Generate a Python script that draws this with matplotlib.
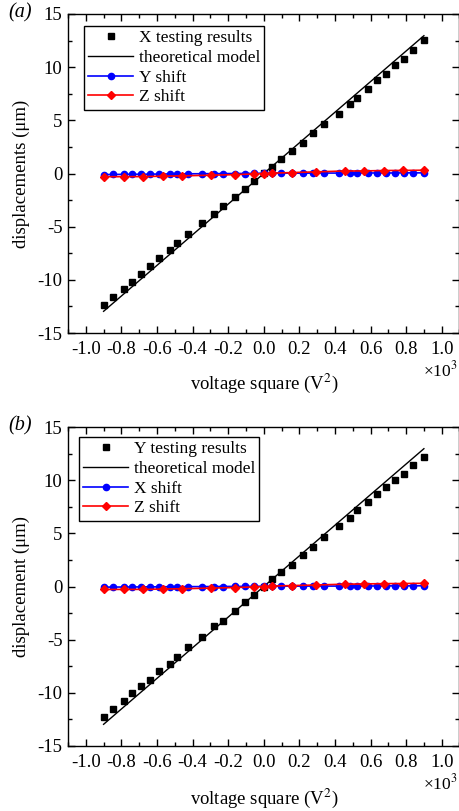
import numpy as np
import matplotlib
matplotlib.use('Agg')
import matplotlib.pyplot as plt

plt.rcParams['font.family'] = ['Liberation Serif', 'DejaVu Serif']
plt.rcParams['mathtext.fontset'] = 'stix'
plt.rcParams['axes.unicode_minus'] = False

# voltage square (x10^3 V^2), same points for every curve
vsq = [-0.900, -0.845, -0.788, -0.740, -0.690, -0.637, -0.588, -0.528, -0.486,
       -0.425, -0.345, -0.279, -0.228, -0.163, -0.107, -0.053, 0.0,
       0.049, 0.099, 0.156, 0.221, 0.274, 0.341, 0.421, 0.483, 0.524,
       0.586, 0.635, 0.689, 0.736, 0.787, 0.839, 0.899]

# panel (a)
x_test_a = [-12.40, -11.65, -10.90, -10.24, -9.49, -8.73, -7.98, -7.22, -6.57,
            -5.72, -4.69, -3.84, -3.06, -2.20, -1.47, -0.66, 0.05,
            0.61, 1.39, 2.14, 2.90, 3.78, 4.62, 5.60, 6.57, 7.07,
            7.92, 8.76, 9.36, 10.17, 10.74, 11.61, 12.52]
y_shift_a = [-0.10, -0.09, -0.08, -0.07, -0.07, -0.06, -0.05, -0.04, -0.04,
             -0.03, -0.02, -0.01, -0.01, 0.0, 0.0, 0.01, 0.02,
             0.03, 0.03, 0.03, 0.03, 0.04, 0.04, 0.04, 0.04, 0.05,
             0.05, 0.05, 0.05, 0.05, 0.06, 0.06, 0.06]

# panel (b)
y_test_b = [-12.30, -11.52, -10.80, -10.00, -9.39, -8.79, -7.98, -7.32, -6.63,
            -5.72, -4.78, -3.74, -3.21, -2.30, -1.43, -0.80, -0.05,
            0.68, 1.34, 2.00, 2.94, 3.72, 4.66, 5.69, 6.44, 7.17,
            7.92, 8.67, 9.33, 10.02, 10.58, 11.43, 12.15]
x_shift_b = [-0.06, -0.05, -0.05, -0.04, -0.04, -0.03, -0.03, -0.02, -0.02,
             -0.01, -0.01, 0.0, 0.0, 0.01, 0.01, 0.02, 0.02,
             0.03, 0.03, 0.03, 0.04, 0.04, 0.04, 0.04, 0.05, 0.05,
             0.05, 0.05, 0.06, 0.06, 0.06, 0.06, 0.07]

# z shift is sampled on fewer points
vsq_z = [-0.900, -0.788, -0.680, -0.566, -0.457, -0.298, -0.163, -0.053, 0.0,
         0.049, 0.159, 0.292, 0.455, 0.562, 0.674, 0.783, 0.899]
z_shift_a = [-0.30, -0.30, -0.29, -0.25, -0.22, -0.16, -0.11, -0.04, 0.0,
             0.03, 0.09, 0.15, 0.24, 0.24, 0.28, 0.29, 0.31]
z_shift_b = [-0.28, -0.27, -0.27, -0.24, -0.21, -0.15, -0.10, -0.04, 0.0,
             0.04, 0.09, 0.14, 0.22, 0.24, 0.27, 0.28, 0.30]

# theoretical model (straight line)
model_x = [-0.9, 0.9]
model_y = [-12.96, 12.96]

W, H = 459, 811
fig = plt.figure(figsize=(W / 100, H / 100), dpi=100)

def px_axes(left, top, right, bottom):
    return fig.add_axes([left / W, 1 - bottom / H, (right - left) / W, (bottom - top) / H])

panels = [
    dict(top=14, bottom=333, test=x_test_a, shift=y_shift_a, z=z_shift_a,
         tlab='X testing results', slab='Y shift', ylab='displacements (μm)',
         tag='(a)', leg=(84, 26), exp_x=423, xl_off=50),
    dict(top=427, bottom=746, test=y_test_b, shift=x_shift_b, z=z_shift_b,
         tlab='Y testing results', slab='X shift', ylab='displacement (μm)',
         tag='(b)', leg=(79, 437), exp_x=423, xl_off=52),
]

fs = 13.5
lfs = 12.5
for p in panels:
    ax = px_axes(68, p['top'], 459.5, p['bottom'])
    hgt = p['bottom'] - p['top']
    wid = 459.5 - 68
    ax.plot(vsq, p['test'], 's', color='black', ms=4, label=p['tlab'])
    ax.plot(model_x, model_y, '-', color='black', lw=1.0, label='theoretical model')
    ax.plot(vsq, p['shift'], '-', color='blue', lw=1.2, marker='o', ms=4.5,
            label=p['slab'])
    ax.plot(vsq_z, p['z'], '-', color='red', lw=1.2, marker='D', ms=4.2,
            label='Z shift')

    ax.set_xlim(-1.1, 1.1)
    ax.set_ylim(-15, 15)
    ax.set_xticks(np.arange(-1.0, 1.01, 0.2))
    ax.set_xticks(np.arange(-1.1, 1.11, 0.1), minor=True)
    ax.set_yticks(np.arange(-15, 16, 5))
    ax.set_yticks(np.arange(-15, 15.1, 2.5), minor=True)
    ax.xaxis.set_major_formatter(matplotlib.ticker.FuncFormatter(
        lambda v, _: ('%.1f' % v).replace('-0.0', '0.0')))
    ax.tick_params(which='both', direction='in', top=True, right=True,
                   labelsize=fs, width=1.0)
    ax.tick_params(which='major', length=5)
    ax.tick_params(which='minor', length=3)
    ax.tick_params(axis='x', pad=6)
    ax.tick_params(axis='y', pad=4)
    for s in ax.spines.values():
        s.set_linewidth(1.0)

    ax.set_xlabel('voltage square (V$^2$)', fontsize=fs)
    ax.xaxis.label.set_va('center')
    ax.xaxis.set_label_coords(0.5, -p['xl_off'] / hgt)
    ax.set_ylabel(p['ylab'], fontsize=fs)
    ax.yaxis.label.set_va('center')
    ax.yaxis.set_label_coords(-47 / wid, 0.5)

    lx, ly = p['leg']
    ax.legend(loc='upper left', bbox_to_anchor=((lx - 68) / wid, 1 - (ly - p['top']) / hgt),
              borderaxespad=0, fancybox=False, edgecolor='black', framealpha=1,
              fontsize=lfs, numpoints=1, handlelength=2.6, handletextpad=0.3,
              labelspacing=0.2, borderpad=0.25).get_frame().set_linewidth(1.0)

    fig.text(p['exp_x'] / W, 1 - (p['bottom'] + 37) / H, '×10$^3$', fontsize=12.5,
             ha='left', va='center')
    fig.text(8 / W, 1 - (p['top'] - 1) / H, p['tag'], fontsize=fs + 1,
             style='italic', ha='left', va='center')

fig.savefig('out.png', dpi=100)
